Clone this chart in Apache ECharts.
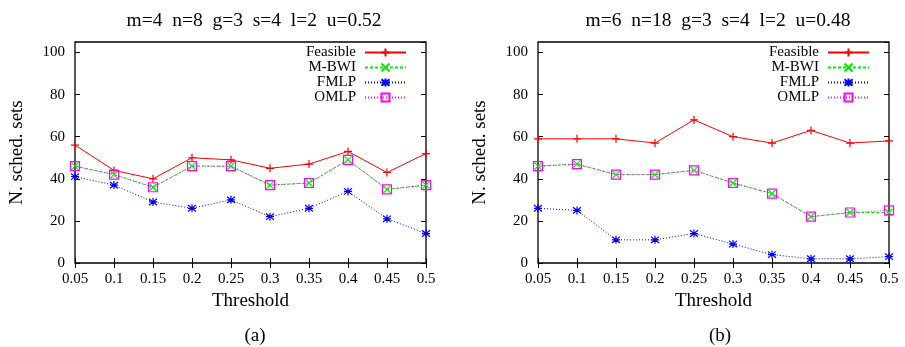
<!DOCTYPE html>
<html><head><meta charset="utf-8">
<script src="https://cdn.jsdelivr.net/npm/echarts@6/dist/echarts.min.js"></script>
<style>html,body{margin:0;padding:0;background:#fff}#c{width:905px;height:347px}</style>
</head><body><div id="c"></div>
<script>
var categories = ['0.05','0.1','0.15','0.2','0.25','0.3','0.35','0.4','0.45','0.5'];
var yTicks = [0,20,40,60,80,100];
var seriesNames = ['Feasible','M-BWI','FMLP','OMLP'];
var titleA = 'm=4  n=8  g=3  s=4  l=2  u=0.52';
var titleB = 'm=6  n=18  g=3  s=4  l=2  u=0.48';
var feasibleA = [56,44,40,50,49,45,47,53,43,52];
var mbwiA     = [46,42,36,46,46,37,38,49,35,37];
var fmlpA     = [41,37,29,26,30,22,26,34,21,14];
var omlpA     = [46,42,36,46,46,37,38,49,35,37];
var feasibleB = [59,59,59,57,68,60,57,63,57,58];
var mbwiB     = [46,47,42,42,44,38,33,22,24,24];
var fmlpB     = [26,25,11,11,14,9,4,2,2,3];
var omlpB     = [46,47,42,42,44,38,33,22,24,25];

var FONT = 'Liberation Serif';
var grids = [{left:75, top:42, width:351, height:221}, {left:538, top:42, width:351, height:221}];
var styles = {
  'Feasible': {color:'#ff0000', type:'solid', symbol:'path://M0,4L8,4M4,0L4,8', size:8},
  'M-BWI': {color:'#00ee00', type:[3,2], symbol:'path://M0,0L8,8M8,0L0,8', size:7},
  'FMLP': {color:'#0000ff', type:[1,2], symbol:'path://M0,0L8,8M8,0L0,8M4,-1L4,9M0,4L8,4', size:8},
  'OMLP': {color:'#ff00ff', type:[1,2], symbol:'path://M0,0L8,0L8,8L0,8Z', size:9}
};
function mkSeries(name, data, gi){
  var s = styles[name];
  return {name:name, type:'line', xAxisIndex:gi*2, yAxisIndex:gi*2, data:data,
    symbol:s.symbol, symbolSize:s.size, showAllSymbol:true,
    lineStyle:{color:s.color, width:1, type:s.type},
    itemStyle:{color:'none', borderColor:s.color, borderWidth:1.2},
    emphasis:{disabled:true}, animation:false};
}
var xAxes=[], yAxes=[];
grids.forEach(function(g,i){
  xAxes.push({type:'category', gridIndex:i, data:categories, boundaryGap:false, position:'bottom',
    name:'Threshold', nameLocation:'middle', nameGap:28, nameTextStyle:{fontFamily:FONT, fontSize:19, color:'#000'},
    axisLine:{show:false}, axisTick:{show:true, inside:true, length:5, lineStyle:{color:'#000'}},
    axisLabel:{fontFamily:FONT, fontSize:15, color:'#000', margin:9}, splitLine:{show:false}});
  xAxes.push({type:'category', gridIndex:i, data:categories, boundaryGap:false, position:'top',
    axisLine:{show:false}, axisTick:{show:true, inside:true, length:5, lineStyle:{color:'#000'}},
    axisLabel:{show:false}, splitLine:{show:false}});
  yAxes.push({type:'value', gridIndex:i, min:0, max:105, interval:20, position:'left',
    name:'N. sched. sets', nameLocation:'middle', nameGap:48, nameTextStyle:{fontFamily:FONT, fontSize:19, color:'#000'},
    axisLine:{show:false}, axisTick:{show:true, inside:true, length:5, lineStyle:{color:'#000'}},
    axisLabel:{fontFamily:FONT, fontSize:15, color:'#000', margin:10, showMaxLabel:false}, splitLine:{show:false}});
  yAxes.push({type:'value', gridIndex:i, min:0, max:105, interval:20, position:'right',
    axisLine:{show:false}, axisTick:{show:true, inside:true, length:5, lineStyle:{color:'#000'}},
    axisLabel:{show:false}, splitLine:{show:false}});
});
var legends = grids.map(function(g,i){
  return {right: 905-(g.left+g.width)+19, top:45, orient:'vertical', align:'right', padding:0,
    itemWidth:41, itemHeight:10, itemGap:0, data:seriesNames, selectedMode:false,
    textStyle:{fontFamily:FONT, fontSize:15, lineHeight:15, height:15, color:'#000', padding:[0,4,0,0]}};
});
var option = {
  backgroundColor:'#fff', animation:false,
  title:[
    {text:titleA, left:249, top:6, textAlign:'center', textStyle:{fontFamily:FONT, fontSize:19.5, fontWeight:'normal', color:'#000'}},
    {text:titleB, left:713, top:6, textAlign:'center', textStyle:{fontFamily:FONT, fontSize:19.5, fontWeight:'normal', color:'#000'}},
    {text:'(a)', left:250, top:322, textAlign:'center', textStyle:{fontFamily:FONT, fontSize:19, fontWeight:'normal', color:'#000'}},
    {text:'(b)', left:715, top:322, textAlign:'center', textStyle:{fontFamily:FONT, fontSize:19, fontWeight:'normal', color:'#000'}}
  ],
  grid: grids.map(function(g){return {left:g.left, top:g.top, width:g.width, height:g.height, show:true, borderColor:'#000', borderWidth:1.3, backgroundColor:'transparent'};}),
  xAxis:xAxes, yAxis:yAxes, legend:legends,
  series:[
    mkSeries('Feasible',feasibleA,0), mkSeries('M-BWI',mbwiA,0), mkSeries('FMLP',fmlpA,0), mkSeries('OMLP',omlpA,0),
    mkSeries('Feasible',feasibleB,1), mkSeries('M-BWI',mbwiB,1), mkSeries('FMLP',fmlpB,1), mkSeries('OMLP',omlpB,1)
  ]
};
var chart = echarts.init(document.getElementById('c'), null, {renderer:'canvas'});
chart.setOption(option);
</script></body></html>
